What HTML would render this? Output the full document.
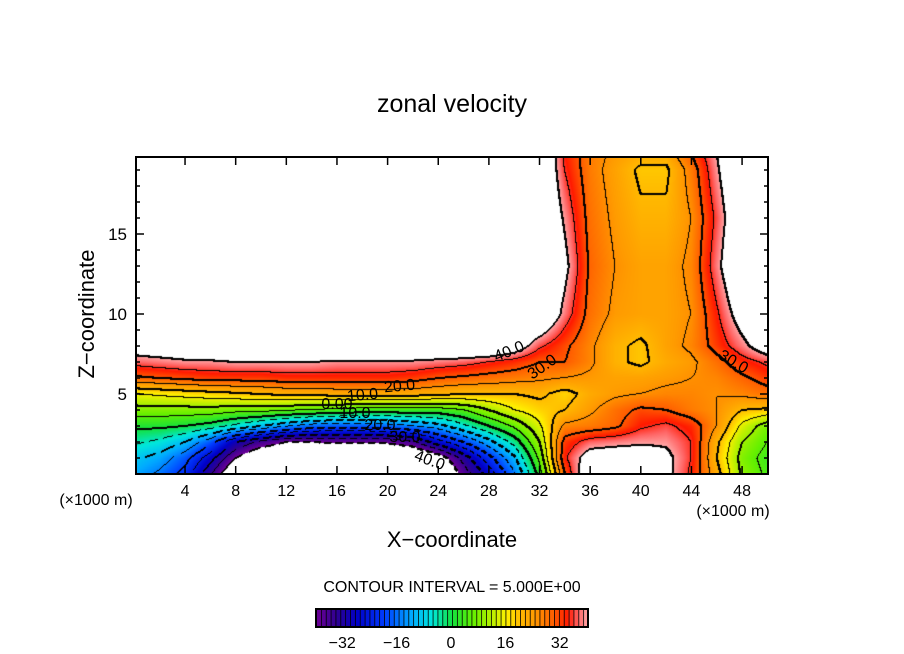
<!DOCTYPE html>
<html><head><meta charset="utf-8"><style>
html,body{margin:0;padding:0;background:#fff;}
#wrap{position:relative;width:904px;height:654px;overflow:hidden;font-family:"Liberation Sans",sans-serif;}
canvas{position:absolute;left:136px;top:157px;}
svg{position:absolute;left:0;top:0;}
</style></head><body>
<div id="wrap">
<canvas id="cv" width="632" height="317"></canvas>
<svg id="sv" width="904" height="654"></svg>
</div>
<script>
// grid x positions (km x1000) and z rows
const xGrid=[0,2,4,6,8,10,12,14,16,18,20,22,24,26,28,30,32,34,36,38,40,42,44,46,48,50];
const yRows=[0,1,2,3,4,5,6,7,8,10,13,16,19,20];
const zRow0 =[-12,-16,-22,-34,-48,-55,-55,-55,-55,-55,-55,-55,-50,-38,-28,-16,2,30,48,50,50,42,34,22,9,4];
const zRow1 =[-9,-12,-18,-28,-40,-48,-50,-50,-50,-50,-50,-50,-44,-33,-22,-11,6,34,44,45,45,42,35,20,8,3];
const zRow2 =[-4,-6,-10,-18,-30,-36,-40,-40,-39,-39,-39,-36,-27,-20,-12,-3,10,32,37,38,39,39,35,21,10,5];
const zRow3 =[1,1,0,-2,-6,-10,-14,-17,-18,-18,-17,-15,-12,-6,0,6,14,26,27,29,34,36,33,25,14,7];
const zRow4 =[8,8,8,8,7,7,6,5,4,3,3,3,3,5,10,15,18,20,24,28,31,30,27,25,20,19];
const zRow5 =[15,16,17,18,19,20,21,21,22,22,22,22,21,20,20,20,21,18,22,24,25,26,26,25,26,28];
const zRow6 =[29,30,31,32,32,32,33,33,33,33,33,32,30,29,28,27,26,25,24,23,23,24,25,26,29,32];
const zRow7 =[37,38,39,39,40,40,40,40,39,39,39,39,38,37,35,33,30,30,26,21,19,22,24,28,33,36];
const zRow8 =[44,45,46,48,50,50,50,50,50,50,50,50,50,50,50,45,36,31,26,21,19,23,26,32,38,45];
const zRow10=[50,50,50,50,50,50,50,50,50,50,50,50,50,50,50,50,50,38,28,24,23,23,25,34,44,50];
const zRow13=[50,50,50,50,50,50,50,50,50,50,50,50,50,50,50,50,50,42,29,25,23,23,26,38,50,50];
const zRow16=[50,50,50,50,50,50,50,50,50,50,50,50,50,50,50,50,50,39,28,24,21,21,25,36,48,50];
const zRow19=[50,50,50,50,50,50,50,50,50,50,50,50,50,50,50,50,50,35,27,23,19,19,27,39,50,50];
const zRow20=[50,50,50,50,50,50,50,50,50,50,50,50,50,50,50,50,50,34,27,24,22,22,30,40,50,50];
const zRows=[zRow0,zRow1,zRow2,zRow3,zRow4,zRow5,zRow6,zRow7,zRow8,zRow10,zRow13,zRow16,zRow19,zRow20];
const xTicks=[4,8,12,16,20,24,28,32,36,40,44,48];
const yTicks=[5,10,15];
const cbTicks=[-32,-16,0,16,32];

const X0=134.4,XS=12.66,Y0=474,YS=16;
const sx=v=>X0+XS*v, sy=v=>Y0-YS*v;
function field(x,y){
  let i=Math.floor(x/2); if(i<0)i=0; if(i>xGrid.length-2)i=xGrid.length-2;
  let tx=(x-xGrid[i])/(xGrid[i+1]-xGrid[i]); tx=Math.max(0,Math.min(1,tx));
  let j=0; while(j<yRows.length-2&&y>yRows[j+1])j++;
  let ty=(y-yRows[j])/(yRows[j+1]-yRows[j]); ty=Math.max(0,Math.min(1,ty));
  const a=zRows[j][i],b=zRows[j][i+1],c=zRows[j+1][i],d=zRows[j+1][i+1];
  return (a*(1-tx)+b*tx)*(1-ty)+(c*(1-tx)+d*tx)*ty;
}
const stops=[[-40,[110,0,150]],[-34,[45,0,145]],[-28,[0,0,200]],[-20,[0,60,255]],[-12,[0,170,255]],[-6,[0,230,220]],[0,[20,225,60]],[6,[100,240,0]],[12,[190,240,0]],[16,[255,240,0]],[20,[255,185,0]],[24,[255,155,0]],[30,[255,90,0]],[34,[255,25,0]],[37,[255,100,100]],[40,[255,170,170]]];
function cmap(v){
  if(v<=stops[0][0])return stops[0][1];
  for(let k=0;k<stops.length-1;k++){
    if(v<=stops[k+1][0]){const t=(v-stops[k][0])/(stops[k+1][0]-stops[k][0]);
      return stops[k][1].map((c,n)=>Math.round(c+(stops[k+1][1][n]-c)*t));}
  }
  return stops[stops.length-1][1];
}
// canvas
const cv=document.getElementById('cv'),ctx=cv.getContext('2d');
const W=cv.width,H=cv.height,img=ctx.createImageData(W,H);
const F=new Float32Array(W*H);
for(let py=0;py<H;py++)for(let px=0;px<W;px++){
  F[py*W+px]=field((136+px+0.5-X0)/XS,(Y0-(157+py+0.5))/YS);
}
for(let p=0;p<W*H;p++){
  const v=F[p];let c=(v>40||v<-40)?[255,255,255]:cmap(v);
  img.data[p*4]=c[0];img.data[p*4+1]=c[1];img.data[p*4+2]=c[2];img.data[p*4+3]=255;
}
function blk(px,py){if(px<0||py<0||px>=W||py>=H)return;const p=(py*W+px)*4;img.data[p]=0;img.data[p+1]=0;img.data[p+2]=0;}
for(let py=0;py<H;py++)for(let px=0;px<W;px++){
  const k=Math.floor(F[py*W+px]/5);
  const nb=[];if(px<W-1)nb.push(Math.floor(F[py*W+px+1]/5));if(py<H-1)nb.push(Math.floor(F[(py+1)*W+px]/5));
  for(const k2 of nb){ if(k2===k)continue;
    const lev=5*Math.max(k,k2); if(lev<-40||lev>40)continue;
    if(lev<0&&((px+py)%11)>6)continue;
    blk(px,py); if(lev%10===0){blk(px+1,py);blk(px,py+1);}
    break;}
}
ctx.putImageData(img,0,0);

// SVG overlay
const NS='http://www.w3.org/2000/svg',sv=document.getElementById('sv');
function el(t,a,txt){const e=document.createElementNS(NS,t);for(const k in a)e.setAttribute(k,a[k]);if(txt!==undefined)e.textContent=txt;sv.appendChild(e);return e;}
let e;
e=el('rect',{x:136,y:157,width:632,height:317,fill:'none',stroke:'#000','stroke-width':2});


for(const t of xTicks){
  e=el('line',{x1:sx(t),x2:sx(t),y1:474,y2:466,stroke:'#000','stroke-width':1.5});
  
  
  e=el('line',{x1:sx(t),x2:sx(t),y1:157,y2:165,stroke:'#000','stroke-width':1.5});
  
  
  e=el('text',{x:sx(t),y:496,'font-size':16,'text-anchor':'middle'},String(t));
  
  
}
for(let v=1;v<=19;v++){
  const L=(v%5===0)?8:4;
  e=el('line',{x1:136,x2:136+L,y1:sy(v),y2:sy(v),stroke:'#000','stroke-width':1.5});
  
  
  e=el('line',{x1:768,x2:768-L,y1:sy(v),y2:sy(v),stroke:'#000','stroke-width':1.5});
  
  
}
for(const t of yTicks){
  e=el('text',{x:127,y:sy(t)+6,'font-size':17,'text-anchor':'end'},String(t));
  
  
}
// contour labels
const labs=[["40.0",511,356,-22],["30.0",545,371,-35],["20.0",400,391,-5],["10.0",363,400,-5],["0.00",337,409,0],["10.0",355,418,0],["20.0",380,430,0],["30.0",405,442,0],["40.0",428,465,20],["30.0",731,366,30]];
for(const l of labs){
  e=el('text',{x:l[1],y:l[2],'font-size':16,'text-anchor':'middle',transform:`rotate(${l[3]} ${l[1]} ${l[2]})`},l[0]);
  
  
}
</script>
<svg width="904" height="654" style="position:absolute;left:0;top:0;pointer-events:none">
<text x="452" y="112" font-size="25" text-anchor="middle" font-family="Liberation Sans, sans-serif">zonal velocity</text>
<text x="0" y="0" font-size="22" text-anchor="middle" transform="translate(94,314) rotate(-90)" font-family="Liberation Sans, sans-serif">Z−coordinate</text>
<text x="452" y="547" font-size="22" text-anchor="middle" font-family="Liberation Sans, sans-serif">X−coordinate</text>
<text x="96" y="505" font-size="16" text-anchor="middle" font-family="Liberation Sans, sans-serif">(×1000 m)</text>
<text x="733" y="516" font-size="16" text-anchor="middle" font-family="Liberation Sans, sans-serif">(×1000 m)</text>
<text x="452" y="592" font-size="16" text-anchor="middle" font-family="Liberation Sans, sans-serif">CONTOUR INTERVAL = 5.000E+00</text>
<g id="cb"></g>
</svg>
<script>
(function(){
  const g=document.getElementById('cb');const NS='http://www.w3.org/2000/svg';
  const L=316,R=588,T=609,B=627,n=56,w=(R-L)/n;
  for(let i=0;i<n;i++){
    const v=-40+(i+0.5)*80/n;const c=cmap(v);
    const r=document.createElementNS(NS,'rect');
    r.setAttribute('x',L+i*w);r.setAttribute('y',T);r.setAttribute('width',w+0.3);r.setAttribute('height',B-T);
    r.setAttribute('fill',`rgb(${c[0]},${c[1]},${c[2]})`);
    
    
    g.appendChild(r);
    const ln=document.createElementNS(NS,'line');
    ln.setAttribute('x1',L+i*w+0.5);ln.setAttribute('x2',L+i*w+0.5);ln.setAttribute('y1',T);ln.setAttribute('y2',B);
    ln.setAttribute('stroke','#000');ln.setAttribute('stroke-width','0.8');
    
    
    g.appendChild(ln);
  }
  const fr=document.createElementNS(NS,'rect');
  fr.setAttribute('x',L);fr.setAttribute('y',T);fr.setAttribute('width',R-L);fr.setAttribute('height',B-T);
  fr.setAttribute('fill','none');fr.setAttribute('stroke','#000');fr.setAttribute('stroke-width','2');
  
  
  g.appendChild(fr);
  for(const t of cbTicks){
    const tx=document.createElementNS(NS,'text');
    tx.setAttribute('x',451+t*3.4);tx.setAttribute('y',648);tx.setAttribute('font-size','16');
    tx.setAttribute('text-anchor','middle');tx.setAttribute('font-family','Liberation Sans, sans-serif');
    tx.textContent=(t<0?'−':'')+Math.abs(t);
    
    
    g.appendChild(tx);
  }
})();
</script>
</body></html>
